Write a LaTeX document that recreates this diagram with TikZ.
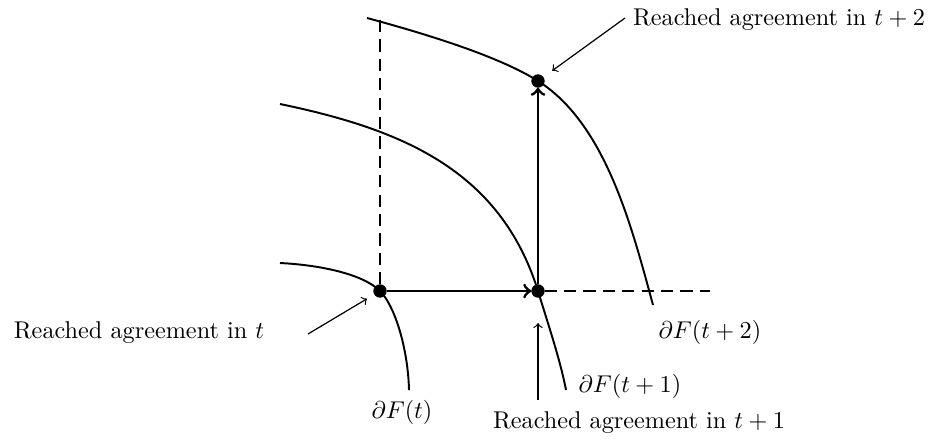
\documentclass[tikz,border=0pt]{standalone}
\usetikzlibrary{positioning}
\begin{document}
\begin{tikzpicture}[
        x=0.0145cm, y=0.0145cm,
        pika/.style={draw, circle, fill=black, inner sep=1.8pt},
        meja/.style={line width=0.8pt},
        korak/.style={->, line width=1.2pt},
        crtkano/.style={line width=1.2pt, dash pattern=on 5pt off 3pt},
        kazalec/.style={->, line width=0.5pt}
    ]
        \useasboundingbox (0,0) rectangle (944,439);

        % Točke dogovora v t, t+1 in t+2
        \node[pika] (p0) at (380,148) {};
        \node[pika] (p1) at (538,148) {};
        \node[pika] (p2) at (538,358) {};

        % --- MEJE F(t), F(t+1), F(t+2) ---
        \draw[meja] (280,176) .. controls (320,174) and (363,165) .. (p0.center)
            .. controls (395,133) and (408,90) .. (409,49);
        \draw[meja] (280,335) .. controls (400,310) and (500,270) .. (p1.center)
            .. controls (548,115) and (560,80) .. (566,49);
        \draw[meja] (367,421) .. controls (430,404) and (500,382) .. (p2.center)
            .. controls (606,315) and (632,211) .. (653,134);

        % Črtkani pomožni črti
        \coordinate (vrh) at (380,422);
        \coordinate (desno) at (710,148);
        \draw[crtkano] (p0) -- (vrh);
        \draw[crtkano] (p1) -- (desno);

        % Koraka pogajanja
        \draw[korak] (p0) -- (p1);
        \draw[korak] (p1) -- (p2);

        % --- OZNAKE ---
        \node (d0) at (402,27) {$\partial F(t)$};
        \node (d1) at (630,53) {$\partial F(t+1)$};
        \node (d2) at (710,107) {$\partial F(t+2)$};

        \node (r0) at (139,106) {Reached agreement in $t$};
        \node (r1) at (639,16) {Reached agreement in $t+1$};
        \node (r2) at (779,419) {Reached agreement in $t+2$};

        % Puščice do točk
        \coordinate (k0) at (308,105);
        \coordinate (k1) at (538,39);
        \coordinate (k2) at (625,421);
        \draw[kazalec, shorten >=3.5pt] (k0) -- (p0);
        \draw[kazalec, shorten >=10.5pt] (k1) -- (p1);
        \draw[kazalec, shorten >=4.5pt] (k2) -- (p2);
    \end{tikzpicture}
\end{document}
